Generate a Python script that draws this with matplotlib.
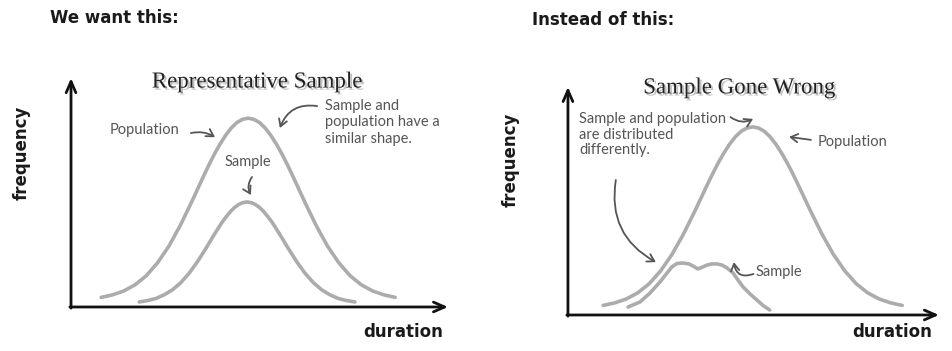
import matplotlib
matplotlib.use("Agg")
import matplotlib.pyplot as plt
import matplotlib.patheffects as pe

# --- data (arbitrary units, 0-100 on both axes) ---
# left panel: "We want this"
pop_left_x = [8, 11, 14, 17, 20, 23, 26, 29, 32, 35, 36.5, 38, 39.5, 41, 42.5, 44, 45.5, 47,
              48.5, 50, 51.5, 53, 54.5, 56, 57.5, 59, 62, 65, 68, 71, 74, 77, 80, 83, 86]
pop_left_y = [4.2, 5.3, 7.0, 9.7, 13.7, 19.4, 26.7, 35.7, 45.9, 56.6, 61.8, 66.7, 71.1, 75.0,
              78.2, 80.6, 82.0, 82.5, 82.0, 80.6, 78.2, 75.0, 71.1, 66.7, 61.8, 56.6,
              45.9, 35.7, 26.7, 19.4, 13.7, 9.7, 7.0, 5.3, 4.2]
samp_left_x = [18.1, 20.3, 22.5, 24.7, 26.9, 29.1, 31.3, 33.5, 35.7, 37.9, 39.0, 40.1, 41.2,
               42.3, 43.4, 44.5, 45.6, 46.7, 47.8, 48.9, 50.0, 51.1, 52.2, 53.3, 54.4, 55.5,
               57.7, 59.9, 62.1, 64.3, 66.5, 68.7, 70.9, 73.1, 75.3]
samp_left_y = [2.2, 2.8, 3.7, 5.3, 7.5, 10.6, 14.7, 19.7, 25.4, 31.4, 34.3, 37.1, 39.5,
               41.7, 43.5, 44.8, 45.6, 45.9, 45.6, 44.8, 43.5, 41.7, 39.5, 37.1, 34.3, 31.4,
               25.4, 19.7, 14.7, 10.6, 7.5, 5.3, 3.7, 2.8, 2.2]

# right panel: "Instead of this"
pop_right_x = [9.5, 12.6, 15.7, 18.8, 21.9, 25.0, 28.1, 31.2, 34.3, 37.4, 38.95, 40.5, 42.05,
               43.6, 45.15, 46.7, 48.25, 49.8, 51.35, 52.9, 54.45, 56.0, 57.55, 59.1, 60.65,
               62.2, 65.3, 68.4, 71.5, 74.6, 77.7, 80.8, 83.9, 87.0, 90.1]
pop_right_y = pop_left_y
samp_right_x = [16.2, 19.4, 22.1, 24.8, 26.7, 28.0, 29.4, 31.0, 32.6, 33.7, 35.0, 36.4,
                37.5, 38.8, 40.2, 41.5, 42.9, 44.5, 45.8, 47.2, 49.1, 50.9, 52.8, 54.4]
samp_right_y = [3.5, 5.7, 9.6, 14.5, 18.4, 21.1, 22.6, 22.8, 22.4, 21.5, 20.2, 21.1,
                21.9, 22.4, 22.4, 21.9, 20.6, 18.4, 15.4, 12.3, 9.2, 6.6, 3.9, 2.2]

curve_color = "#acacac"
note_color = "#555555"
hand = "Lato"

fig = plt.figure(figsize=(9.52, 3.51), dpi=100)
ax1 = fig.add_axes([0.0746, 0.1254, 0.396, 0.652])
ax2 = fig.add_axes([0.5966, 0.1026, 0.3897, 0.6496])


def setup(ax):
    ax.set_xlim(0, 100)
    ax.set_ylim(0, 100)
    ax.axis("off")
    arrow = dict(arrowstyle="->,head_length=0.8,head_width=0.35", lw=2, color="#111111",
                 shrinkA=0, shrinkB=0)
    ax.annotate("", xy=(1.0, 0), xytext=(-0.003, 0), xycoords="axes fraction", arrowprops=arrow)
    ax.annotate("", xy=(0, 1.0), xytext=(0, -0.005), xycoords="axes fraction", arrowprops=arrow)


def note(ax, txt, x, y, **kw):
    ax.text(x, y, txt, fontsize=10.5, color=note_color, family=hand, clip_on=False, **kw)


def arrow(ax, x0, y0, x1, y1, rad=0.0):
    ax.annotate("", xy=(x1, y1), xytext=(x0, y0),
                arrowprops=dict(arrowstyle="->,head_length=0.5,head_width=0.3", lw=1.3,
                                color=note_color, shrinkA=0, shrinkB=0,
                                connectionstyle="arc3,rad=%s" % rad),
                annotation_clip=False)


shadow = [pe.withSimplePatchShadow(offset=(1.5, -1.5), shadow_rgbFace="#999999", alpha=0.6)]
line_kw = dict(color=curve_color, lw=2.6, solid_capstyle="round", solid_joinstyle="round")

# left panel
setup(ax1)
ax1.plot(pop_left_x, pop_left_y, **line_kw)
ax1.plot(samp_left_x, samp_left_y, **line_kw)
ax1.text(49.3, 98.3, "Representative Sample", fontsize=16.5, family="Liberation Serif",
         color="#222222", ha="center", va="center", clip_on=False, path_effects=shadow)
note(ax1, "Population", 10.3, 77.3, va="center")
arrow(ax1, 31.8, 76.0, 38.2, 74.2, rad=-0.2)
note(ax1, "Sample and\npopulation have a\nsimilar shape.", 67.4, 91.0, va="top", linespacing=1.25)
arrow(ax1, 65.3, 87.8, 55.4, 78.2, rad=0.4)
note(ax1, "Sample", 46.9, 63.3, ha="center", va="center")
arrow(ax1, 48.0, 56.8, 47.7, 48.9, rad=0.3)

# right panel
setup(ax2)
ax2.plot(pop_right_x, pop_right_y, **line_kw)
ax2.plot(samp_right_x, samp_right_y, **line_kw)
ax2.text(46.1, 99.6, "Sample Gone Wrong", fontsize=16.5, family="Liberation Serif",
         color="#222222", ha="center", va="center", clip_on=False, path_effects=shadow)
note(ax2, "Sample and population\nare distributed\ndifferently.", 3.0, 89.0, va="top",
     linespacing=1.15)
arrow(ax2, 43.8, 86.8, 49.9, 86.0, rad=0.3)
arrow(ax2, 12.9, 59.2, 23.7, 23.2, rad=0.35)
arrow(ax2, 65.5, 76.8, 59.6, 78.1)
note(ax2, "Population", 67.4, 75.9, va="center")
note(ax2, "Sample", 50.6, 18.9, va="center")
arrow(ax2, 50.0, 18.0, 44.7, 23.2, rad=-0.6)

# headers and axis labels
bold = dict(family="DejaVu Sans", weight="bold", color="#1a1a1a", fontsize=12)
fig.text(50 / 952, 1 - 18 / 351, "We want this:", va="center", **bold)
fig.text(532 / 952, 1 - 20 / 351, "Instead of this:", va="center", **bold)
fig.text(22 / 952, 1 - 153 / 351, "frequency", rotation=90, ha="center", va="center", **bold)
fig.text(511 / 952, 1 - 160 / 351, "frequency", rotation=90, ha="center", va="center", **bold)
fig.text(443 / 952, 1 - 332 / 351, "duration", ha="right", va="center", **bold)
fig.text(932 / 952, 1 - 332 / 351, "duration", ha="right", va="center", **bold)

fig.savefig("out.png", dpi=100, facecolor="white")
